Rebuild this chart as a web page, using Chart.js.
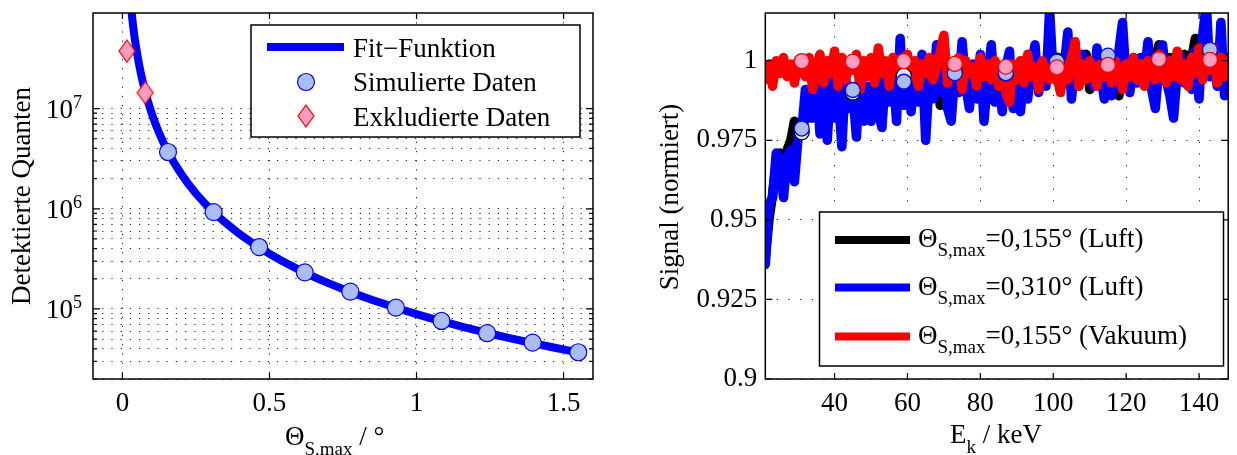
<!DOCTYPE html>
<html lang="de">
<head>
<meta charset="UTF-8">
<title>Detektierte Quanten und Signal</title>
<script src="https://cdn.jsdelivr.net/npm/chart.js"></script>
<style>
  body { margin: 0; background: #fff; width: 1237px; height: 455px; overflow: hidden; position: relative; }
  .panel { position: absolute; top: 0; height: 455px; }
  #left { left: 0; width: 610px; }
  #right { left: 620px; width: 617px; }
</style>
</head>
<body>
<div class="panel" id="left"><canvas id="quanten"></canvas></div>
<div class="panel" id="right"><canvas id="signal"></canvas></div>
<script>
// ---- left panel: detected quanta vs. Theta_S,max ----
const thetaFit = [0.026, 0.032, 0.04, 0.05, 0.062, 0.0775, 0.1, 0.125, 0.155, 0.2, 0.25, 0.31, 0.39, 0.465,
                  0.54, 0.62, 0.7, 0.775, 0.85, 0.93, 1.0, 1.085, 1.16, 1.24, 1.32, 1.395, 1.47, 1.55];
const quantenFit = [1.3e8, 8.7e7, 5.5e7, 3.55e7, 2.3e7, 1.48e7, 8.9e6, 5.7e6, 3.69e6, 2.22e6, 1.42e6, 9.25e5, 5.85e5, 4.12e5,
                    3.04e5, 2.31e5, 1.81e5, 1.48e5, 1.23e5, 1.03e5, 8.9e4, 7.55e4, 6.6e4, 5.77e4, 5.09e4, 4.56e4, 4.1e4, 3.69e4];
const thetaSim = [0.155, 0.31, 0.465, 0.62, 0.775, 0.93, 1.085, 1.24, 1.395, 1.55];
const quantenSim = [3.69e6, 9.27e5, 4.15e5, 2.32e5, 1.49e5, 1.03e5, 7.59e4, 5.73e4, 4.61e4, 3.70e4];
const thetaExcl = [0.0155, 0.0775];
const quantenExcl = [3.75e7, 1.44e7];
const thetaTicks = [0, 0.5, 1, 1.5];
const quantenGrid = [2e4, 3e4, 4e4, 5e4, 6e4, 7e4, 8e4, 9e4,
                     1e5, 2e5, 3e5, 4e5, 5e5, 6e5, 7e5, 8e5, 9e5,
                     1e6, 2e6, 3e6, 4e6, 5e6, 6e6, 7e6, 8e6, 9e6, 1e7];
const quantenMajor = [1e5, 1e6, 1e7];
const quantenExp = ['5', '6', '7'];

// ---- right panel: normalised signal vs. E_k ----
const energy = [21, 22, 23, 24, 25, 26, 27, 28, 29, 30,
  31, 32, 33, 34, 35, 36, 37, 38, 39, 40,
  41, 42, 43, 44, 45, 46, 47, 48, 49, 50,
  51, 52, 53, 54, 55, 56, 57, 58, 59, 60,
  61, 62, 63, 64, 65, 66, 67, 68, 69, 70,
  71, 72, 73, 74, 75, 76, 77, 78, 79, 80,
  81, 82, 83, 84, 85, 86, 87, 88, 89, 90,
  91, 92, 93, 94, 95, 96, 97, 98, 99, 100,
  101, 102, 103, 104, 105, 106, 107, 108, 109, 110,
  111, 112, 113, 114, 115, 116, 117, 118, 119, 120,
  121, 122, 123, 124, 125, 126, 127, 128, 129, 130,
  131, 132, 133, 134, 135, 136, 137, 138, 139, 140,
  141, 142, 143, 144, 145, 146, 147, 148];
const signalLuft155 = [0.938, 0.950, 0.958, 0.968, 0.971, 0.966, 0.972, 0.975, 0.981, 0.978,
  0.977, 0.983, 0.986, 0.982, 0.988, 0.984, 0.990, 0.983, 0.989, 0.985,
  0.988, 0.983, 0.991, 0.986, 0.990, 0.985, 0.992, 0.987, 0.991, 0.986,
  0.990, 0.987, 0.991, 0.997, 0.988, 0.992, 0.989, 0.995, 0.990, 0.994,
  0.991, 0.995, 0.990, 0.996, 0.991, 0.994, 0.989, 0.996, 0.986, 0.995,
  0.992, 0.997, 0.993, 0.996, 0.991, 0.998, 0.993, 0.996, 0.994, 0.998,
  0.993, 0.997, 0.995, 0.998, 0.989, 0.996, 0.994, 0.999, 0.993, 0.997,
  0.995, 0.998, 0.994, 0.999, 0.996, 0.993, 0.999, 0.995, 1.001, 0.997,
  1.000, 0.996, 0.999, 0.997, 1.001, 0.995, 0.999, 0.997, 1.002, 0.991,
  0.998, 0.996, 1.000, 0.995, 1.001, 0.997, 0.999, 0.989, 0.996, 1.000,
  0.997, 1.001, 0.996, 0.999, 0.998, 1.002, 0.996, 1.000, 1.005, 0.998,
  0.997, 1.001, 0.995, 0.999, 0.998, 1.002, 0.996, 1.001, 1.007, 0.999,
  1.001, 1.004, 0.998, 1.002, 0.997, 1.003, 0.999, 1.001];
const signalLuft310 = [0.936, 0.955, 0.957, 0.971, 0.969, 0.957, 0.970, 0.972, 0.962, 0.976,
  0.978, 0.991, 0.982, 0.984, 0.996, 0.977, 0.993, 0.975, 0.994, 0.982,
  0.990, 0.973, 0.995, 0.985, 0.990, 0.976, 0.996, 0.981, 0.992, 0.981,
  0.994, 0.984, 0.979, 0.996, 0.987, 0.998, 0.981, 1.007, 0.986, 0.994,
  0.984, 0.997, 0.987, 1.002, 0.975, 0.995, 0.988, 1.005, 0.990, 0.997,
  0.985, 0.981, 0.996, 0.990, 1.006, 0.992, 0.985, 0.999, 0.988, 1.002,
  0.981, 0.994, 1.005, 0.987, 0.995, 0.984, 0.998, 1.003, 0.985, 0.993,
  0.984, 0.996, 0.988, 0.999, 1.005, 0.990, 0.997, 0.992, 1.016, 0.995,
  1.000, 0.993, 0.998, 1.009, 0.988, 0.999, 0.992, 1.002, 0.995, 0.998,
  0.992, 1.004, 0.996, 0.988, 1.000, 0.989, 0.996, 1.003, 1.012, 0.994,
  0.990, 0.999, 0.993, 1.001, 0.996, 1.006, 0.991, 0.985, 0.998, 1.005,
  0.994, 0.989, 0.982, 0.996, 1.001, 0.993, 0.999, 0.991, 1.003, 0.988,
  1.008, 1.018, 0.995, 1.003, 0.992, 1.012, 0.989, 0.996];
const signalVakuum = [0.994, 0.999, 0.992, 1.000, 0.996, 1.001, 0.995, 0.999, 0.993, 1.000,
  0.997, 0.995, 1.001, 0.991, 0.998, 1.002, 0.993, 1.000, 0.996, 1.003,
  0.992, 1.001, 0.994, 0.999, 0.997, 1.002, 0.991, 1.000, 0.995, 1.001,
  0.993, 1.004, 0.996, 1.000, 0.992, 1.001, 0.997, 0.999, 0.994, 1.002,
  0.995, 1.000, 0.992, 0.999, 0.996, 1.001, 0.994, 0.998, 1.003, 1.008,
  0.993, 0.999, 0.995, 1.001, 0.991, 1.000, 0.996, 0.998, 0.992, 1.001,
  0.995, 0.999, 0.994, 1.000, 0.992, 0.997, 0.990, 0.987, 0.999, 0.994,
  1.000, 0.993, 1.002, 0.995, 0.998, 0.991, 1.000, 0.996, 0.994, 0.999,
  0.995, 0.990, 0.999, 0.994, 1.001, 1.006, 0.992, 0.999, 0.994, 1.000,
  0.996, 0.992, 0.999, 0.995, 0.998, 0.993, 1.000, 0.996, 0.991, 0.999,
  0.995, 1.001, 0.994, 0.999, 0.992, 1.000, 0.997, 0.994, 1.002, 0.996,
  0.993, 1.000, 0.995, 1.003, 0.994, 0.999, 0.992, 1.001, 0.996, 1.004,
  0.994, 1.002, 0.997, 1.004, 0.993, 1.001, 0.995, 1.000];
const markerEnergy = [31, 45, 59, 73, 87, 101, 115, 129, 143];
const markerLuft155 = [0.9775, 0.9900, 0.9953, 0.9968, 0.9960, 1.0000, 1.0010, 1.0005, 1.0030];
const markerLuft310 = [0.9787, 0.9908, 0.9934, 0.9961, 0.9961, 0.9997, 1.0016, 1.0005, 1.0034];
const markerVakuum = [0.9999, 0.9997, 0.9999, 0.9990, 0.9981, 0.9979, 0.9987, 1.0005, 1.0003];
const energyTicks = [40, 60, 80, 100, 120, 140];
const signalTicks = [0.9, 0.925, 0.95, 0.975, 1];
const legendRight = ['=0,155° (Luft)', '=0,310° (Luft)', '=0,155° (Vakuum)'];

const serif = '"Liberation Serif", "DejaVu Serif", serif';
Chart.defaults.font.family = serif;
Chart.defaults.font.size = 27;
Chart.defaults.color = '#000';

const blue = '#0000ff', red = '#ff0000';
const lightBlue = '#aabdf8', pink = '#fa9dc0';

function pts(xs, ys) { return xs.map((x, i) => ({ x: x, y: ys[i] })); }

// keep the plot frame where the figure has it, labels may overhang
function fixSize(prop, size) {
    return s => {
        s[prop] = size;
        s.paddingTop = 0; s.paddingBottom = 0;
        s.paddingLeft = 0; s.paddingRight = 0;
    };
}

function drawRich(ctx, x, y, parts) {
    for (const [text, size, dy] of parts) {
        ctx.font = size + 'px ' + serif;
        ctx.fillText(text, x, y + dy);
        x += ctx.measureText(text).width;
    }
    return x;
}

function drawBox(ctx, a) {
    ctx.strokeStyle = '#000';
    ctx.lineWidth = 1.5;
    ctx.strokeRect(a.left, a.top, a.right - a.left, a.bottom - a.top);
}

function tickMarks(ctx, chart, xTicks, yTicks, yLen) {
    const a = chart.chartArea;
    ctx.strokeStyle = '#000';
    ctx.lineWidth = 1.2;
    ctx.beginPath();
    xTicks.forEach(v => {
        const px = chart.scales.x.getPixelForValue(v);
        ctx.moveTo(px, a.bottom); ctx.lineTo(px, a.bottom - 6);
        ctx.moveTo(px, a.top); ctx.lineTo(px, a.top + 6);
    });
    yTicks.forEach(v => {
        const py = chart.scales.y.getPixelForValue(v);
        const len = yLen(v);
        ctx.moveTo(a.left, py); ctx.lineTo(a.left + len, py);
        ctx.moveTo(a.right, py); ctx.lineTo(a.right - len, py);
    });
    ctx.stroke();
}

// tall diamond used as marker for the excluded points
function diamondMarker(w, h) {
    const c = document.createElement('canvas');
    c.width = w + 2; c.height = h + 2;
    const g = c.getContext('2d');
    g.beginPath();
    g.moveTo(c.width / 2, 1); g.lineTo(c.width - 1, c.height / 2);
    g.lineTo(c.width / 2, c.height - 1); g.lineTo(1, c.height / 2);
    g.closePath();
    g.fillStyle = pink; g.fill();
    g.strokeStyle = red; g.lineWidth = 1.2; g.stroke();
    return c;
}
const diamond = diamondMarker(16, 22);

const quantenDecor = {
    id: 'quantenDecor',
    afterDraw(chart) {
        const ctx = chart.ctx, a = chart.chartArea;
        ctx.save();
        drawBox(ctx, a);
        tickMarks(ctx, chart, thetaTicks, quantenGrid, v => quantenMajor.includes(v) ? 7 : 4);

        // y tick labels 10^n
        ctx.fillStyle = '#000';
        quantenMajor.forEach((v, i) => {
            const py = chart.scales.y.getPixelForValue(v);
            ctx.font = '27px ' + serif;
            ctx.textAlign = 'right';
            ctx.fillText('10', 73, py + 9);
            ctx.font = '18px ' + serif;
            ctx.textAlign = 'left';
            ctx.fillText(quantenExp[i], 73, py - 1);
        });

        // legend
        ctx.fillStyle = '#fff';
        ctx.fillRect(251, 25, 329, 112);
        ctx.strokeStyle = '#000';
        ctx.lineWidth = 1.5;
        ctx.strokeRect(251, 25, 329, 112);
        ctx.strokeStyle = blue;
        ctx.lineWidth = 8;
        ctx.beginPath(); ctx.moveTo(267, 47); ctx.lineTo(344, 47); ctx.stroke();
        ctx.beginPath(); ctx.arc(306, 82, 8.5, 0, Math.PI * 2);
        ctx.fillStyle = lightBlue; ctx.fill();
        ctx.lineWidth = 1.2; ctx.strokeStyle = blue; ctx.stroke();
        ctx.drawImage(diamond, 306 - diamond.width / 2, 116 - diamond.height / 2);
        ctx.fillStyle = '#000';
        ctx.textAlign = 'left';
        ctx.font = '27px ' + serif;
        ctx.fillText('Fit\u2212Funktion', 353, 56.5);
        ctx.fillText('Simulierte Daten', 353, 91);
        ctx.fillText('Exkludierte Daten', 353, 125.5);

        // axis titles
        drawRich(ctx, 285, 445, [['\u0398', 27, 0], ['S,max', 19, 10], [' / \u00b0', 27, 0]]);
        ctx.translate(30, 196);
        ctx.rotate(-Math.PI / 2);
        ctx.textAlign = 'center';
        ctx.font = '27px ' + serif;
        ctx.fillText('Detektierte Quanten', 0, 0);
        ctx.restore();
    }
};

const signalDecor = {
    id: 'signalDecor',
    afterDraw(chart) {
        const ctx = chart.ctx, a = chart.chartArea;
        ctx.save();
        drawBox(ctx, a);
        tickMarks(ctx, chart, energyTicks, signalTicks, () => 7);

        // legend
        ctx.fillStyle = '#fff';
        ctx.fillRect(199.5, 212, 404, 154);
        ctx.strokeStyle = '#000';
        ctx.lineWidth = 1.5;
        ctx.strokeRect(199.5, 212, 404, 154);
        const rows = [240, 287.5, 336.5];
        const colors = ['#000', blue, red];
        rows.forEach((ry, i) => {
            ctx.strokeStyle = colors[i];
            ctx.lineWidth = 8;
            ctx.beginPath(); ctx.moveTo(215, ry); ctx.lineTo(290, ry); ctx.stroke();
            ctx.fillStyle = '#000';
            ctx.textAlign = 'left';
            drawRich(ctx, 298, ry + 7, [['\u0398', 27, 0], ['S,max', 19, 9], [legendRight[i], 27, 0]]);
        });

        // axis titles
        ctx.fillStyle = '#000';
        drawRich(ctx, 330, 443, [['E', 27, 0], ['k', 19, 10], [' / keV', 27, 0]]);
        ctx.translate(58, 197);
        ctx.rotate(-Math.PI / 2);
        ctx.textAlign = 'center';
        ctx.font = '27px ' + serif;
        ctx.fillText('Signal (normiert)', 0, 0);
        ctx.restore();
    }
};

new Chart(document.getElementById('quanten'), {
    type: 'scatter',
    data: {
        datasets: [
            { label: 'Exkludierte Daten', data: pts(thetaExcl, quantenExcl), pointStyle: diamond, order: 0 },
            { label: 'Simulierte Daten', data: pts(thetaSim, quantenSim), pointRadius: 8.5,
              backgroundColor: lightBlue, borderColor: blue, borderWidth: 1.2, order: 1 },
            { label: 'Fit\u2212Funktion', data: pts(thetaFit, quantenFit), showLine: true, pointRadius: 0,
              borderColor: blue, borderWidth: 8, cubicInterpolationMode: 'monotone', order: 2 }
        ]
    },
    options: {
        responsive: true,
        maintainAspectRatio: false,
        animation: false,
        layout: { padding: { left: 0, top: 13, right: 17, bottom: 0 } },
        plugins: { legend: { display: false }, tooltip: { enabled: false } },
        scales: {
            x: {
                type: 'linear', min: -0.1, max: 1.6,
                afterBuildTicks: s => { s.ticks = thetaTicks.map(v => ({ value: v })); },
                afterFit: fixSize('height', 76),
                ticks: { padding: 9, callback: v => String(v) },
                grid: { color: '#222', lineWidth: 1, drawTicks: false },
                border: { display: false, dash: [1.2, 8] }
            },
            y: {
                type: 'logarithmic', min: 2e4, max: 9e7,
                afterBuildTicks: s => { s.ticks = quantenGrid.map(v => ({ value: v })); },
                afterFit: fixSize('width', 93),
                ticks: { display: false },
                grid: { color: '#222', lineWidth: 1, drawTicks: false },
                border: { display: false, dash: [1.2, 8] }
            }
        }
    },
    plugins: [quantenDecor]
});

const lineStyle = { showLine: true, pointRadius: 0, borderWidth: 9.5, borderJoinStyle: 'round', borderCapStyle: 'round' };
const markStyle = { pointRadius: 7.5, borderWidth: 1.3 };

new Chart(document.getElementById('signal'), {
    type: 'scatter',
    data: {
        datasets: [
            Object.assign({ label: 'Vakuum Marker', data: pts(markerEnergy, markerVakuum),
                backgroundColor: pink, borderColor: red, order: 0 }, markStyle),
            Object.assign({ label: 'Luft 0,310 Marker', data: pts(markerEnergy, markerLuft310),
                backgroundColor: lightBlue, borderColor: blue, order: 1 }, markStyle),
            Object.assign({ label: 'Luft 0,155 Marker', data: pts(markerEnergy, markerLuft155),
                backgroundColor: '#e6e6e6', borderColor: '#000', order: 2 }, markStyle),
            Object.assign({ label: '0,155 Vakuum', data: pts(energy, signalVakuum), borderColor: red, order: 3 }, lineStyle),
            Object.assign({ label: '0,310 Luft', data: pts(energy, signalLuft310), borderColor: blue, order: 4 }, lineStyle),
            Object.assign({ label: '0,155 Luft', data: pts(energy, signalLuft155), borderColor: '#000', order: 5 }, lineStyle)
        ]
    },
    options: {
        responsive: true,
        maintainAspectRatio: false,
        animation: false,
        layout: { padding: { left: 0, top: 13, right: 1.3, bottom: 0 } },
        plugins: { legend: { display: false }, tooltip: { enabled: false } },
        scales: {
            x: {
                type: 'linear', min: 21, max: 148,
                afterBuildTicks: s => { s.ticks = energyTicks.map(v => ({ value: v })); },
                afterFit: fixSize('height', 76),
                ticks: { padding: 9 },
                grid: { color: '#222', lineWidth: 1, drawTicks: false },
                border: { display: false, dash: [1.2, 10.5] }
            },
            y: {
                type: 'linear', min: 0.9, max: 1.015,
                afterBuildTicks: s => { s.ticks = signalTicks.map(v => ({ value: v })); },
                afterFit: fixSize('width', 145.3),
                ticks: { padding: 8, callback: v => String(v) },
                grid: { color: '#222', lineWidth: 1, drawTicks: false },
                border: { display: false, dash: [1.2, 10.5] }
            }
        }
    },
    plugins: [signalDecor]
});
</script>
</body>
</html>
